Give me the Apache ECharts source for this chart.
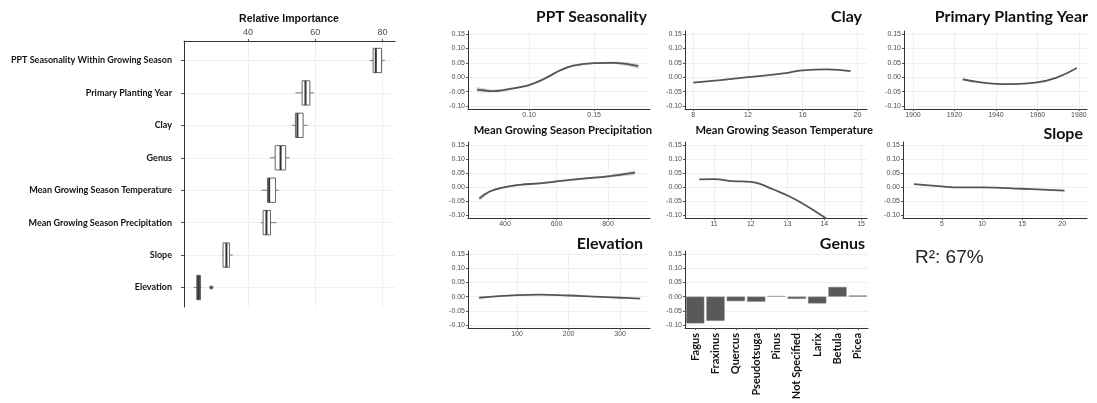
<!DOCTYPE html>
<html>
<head>
<meta charset="utf-8">
<script src="https://cdn.jsdelivr.net/npm/echarts@6/dist/echarts.min.js"></script>
<style>
  html, body { margin: 0; padding: 0; background: #fff; }
  #main { width: 1097px; height: 403px; }
</style>
</head>
<body>
<div id="main"></div>
<script>
// relative importance boxplot (left)
const importanceNames = ['PPT Seasonality Within Growing Season', 'Primary Planting Year', 'Clay', 'Genus',
  'Mean Growing Season Temperature', 'Mean Growing Season Precipitation', 'Slope', 'Elevation'];
const importanceLow = [76.2, 54.1, 53.1, 46.5, 44.0, 43.8, 32.3, 23.9];
const importanceQ1 = [77.2, 56.1, 54.1, 48.1, 45.8, 44.5, 32.6, 24.8];
const importanceMedian = [78.0, 57.1, 54.7, 49.7, 46.3, 45.5, 33.6, 25.3];
const importanceQ3 = [79.7, 58.4, 56.4, 51.2, 48.2, 46.7, 34.5, 25.9];
const importanceHigh = [80.7, 59.6, 57.7, 52.4, 49.2, 48.5, 35.5, 26.2];
const importanceOutliers = [[29.1, 7]];
const importanceTicks = [40, 60, 80];

// partial dependence panels
const effectTicks = [-0.10, -0.05, 0.00, 0.05, 0.10, 0.15];

const pptX = [0.060, 0.066, 0.072, 0.0825, 0.091, 0.100, 0.111, 0.124, 0.134, 0.150, 0.165, 0.175, 0.184];
const pptY = [-0.043, -0.046, -0.048, -0.043, -0.036, -0.027, -0.007, 0.024, 0.040, 0.049, 0.050, 0.046, 0.038];
const pptLow = [-0.052, -0.053, -0.053, -0.047, -0.039, -0.030, -0.010, 0.021, 0.037, 0.046, 0.046, 0.040, 0.029];
const pptHigh = [-0.034, -0.039, -0.043, -0.039, -0.033, -0.024, -0.004, 0.027, 0.043, 0.052, 0.054, 0.052, 0.047];
const pptTicks = [0.10, 0.15];

const clayX = [8, 10, 12, 14.6, 16, 17.8, 19.5];
const clayY = [-0.019, -0.010, 0.000, 0.013, 0.024, 0.027, 0.021];
const clayTicks = [8, 12, 16, 20];

const yearX = [1924, 1932, 1940, 1948, 1959, 1969, 1979];
const yearY = [-0.007, -0.017, -0.023, -0.024, -0.019, -0.002, 0.032];
const yearTicks = [1900, 1920, 1940, 1960, 1980];

const precipX = [300, 342, 400, 458, 535, 600, 703, 800, 905];
const precipY = [-0.041, -0.015, 0.000, 0.008, 0.013, 0.020, 0.030, 0.038, 0.051];
const precipLow = [-0.049, -0.019, -0.003, 0.005, 0.010, 0.017, 0.027, 0.034, 0.043];
const precipHigh = [-0.033, -0.011, 0.003, 0.011, 0.016, 0.023, 0.033, 0.042, 0.059];
const precipTicks = [400, 600, 800];

const tempX = [10.6, 11, 11.5, 12, 12.25, 12.6, 13, 13.43, 13.93, 14.05];
const tempY = [0.027, 0.028, 0.021, 0.018, 0.011, -0.008, -0.030, -0.060, -0.101, -0.112];
const tempTicks = [11, 12, 13, 14, 15];

const slopeX = [1.5, 5, 7.2, 10, 15, 20.3];
const slopeY = [0.010, 0.002, -0.001, -0.001, -0.006, -0.013];
const slopeTicks = [5, 10, 15, 20];

const elevX = [26, 100, 144, 200, 249, 300, 339];
const elevY = [-0.004, 0.005, 0.007, 0.004, 0.000, -0.004, -0.007];
const elevTicks = [100, 200, 300];

const genusNames = ['Fagus', 'Fraxinus', 'Quercus', 'Pseudotsuga', 'Pinus', 'Not Specified', 'Larix', 'Betula', 'Picea'];
const genusValues = [-0.094, -0.085, -0.016, -0.018, 0.002, -0.008, -0.024, 0.034, 0.004];

const rSquared = 'R²: 67%';

const chart = echarts.init(document.getElementById('main'));

const smallLabel = { fontSize: 7, color: '#4d4d4d', fontFamily: 'Liberation Sans' };
const gridLine = { show: true, lineStyle: { color: '#ebebeb', width: 0.8 } };

function valueAxis(gridIndex, min, max, ticks, digits, extra) {
  return Object.assign({
    type: 'value', gridIndex: gridIndex, min: min, max: max,
    axisLine: { show: true, onZero: false, lineStyle: { color: '#333', width: 1 } },
    axisTick: { show: true, length: 2, customValues: ticks, lineStyle: { color: '#555' } },
    axisLabel: Object.assign({ customValues: ticks, margin: 3, formatter: v => Number(v).toFixed(digits) }, smallLabel),
    splitLine: gridLine
  }, extra || {});
}

function effectAxis(gridIndex) {
  return valueAxis(gridIndex, -0.11, 0.16, effectTicks, 2);
}

function pairs(xs, ys) {
  return xs.map((x, i) => [x, ys[i]]);
}

function lineSeries(idx, xs, ys) {
  return {
    type: 'line', xAxisIndex: idx, yAxisIndex: idx, data: pairs(xs, ys),
    smooth: 0.45, showSymbol: false, symbol: 'none', clip: true,
    lineStyle: { color: '#555', width: 1.8 }, z: 3
  };
}

function bandSeries(idx, xs, lo, hi) {
  return {
    type: 'custom', xAxisIndex: idx, yAxisIndex: idx,
    data: xs.map((x, i) => [x, lo[i], hi[i]]),
    encode: { x: 0, y: [1, 2] },
    renderItem: function (params, api) {
      if (params.dataIndex !== 0) return;
      const pts = [];
      xs.forEach((x, i) => pts.push(api.coord([x, hi[i]])));
      for (let i = xs.length - 1; i >= 0; i--) pts.push(api.coord([xs[i], lo[i]]));
      return { type: 'polygon', shape: { points: pts }, style: { fill: '#d3d3d3' } };
    },
    z: 2
  };
}

const grids = [
  { left: 184, top: 41, width: 211, height: 266 },
  { left: 468, top: 31, width: 182, height: 78 },
  { left: 685, top: 31, width: 182, height: 78 },
  { left: 904, top: 31, width: 183, height: 78 },
  { left: 468, top: 142, width: 182, height: 76 },
  { left: 685, top: 142, width: 182, height: 76 },
  { left: 903, top: 142, width: 184, height: 76 },
  { left: 468, top: 251, width: 182, height: 77 },
  { left: 685, top: 251, width: 183, height: 77 }
];

const xAxes = [
  valueAxis(0, 21, 83.7, importanceTicks, 0, {
    position: 'top',
    axisLabel: { customValues: importanceTicks, margin: 4, fontSize: 9, color: '#4d4d4d', fontFamily: 'Liberation Sans' }
  }),
  valueAxis(1, 0.053, 0.193, pptTicks, 2),
  valueAxis(2, 7.4, 20.7, clayTicks, 0),
  valueAxis(3, 1895.7, 1983.9, yearTicks, 0),
  valueAxis(4, 256, 963, precipTicks, 0),
  valueAxis(5, 10.21, 15.16, tempTicks, 0),
  valueAxis(6, 0.125, 23.1, slopeTicks, 0),
  valueAxis(7, 4.5, 358, elevTicks, 0),
  {
    type: 'category', gridIndex: 8, data: genusNames,
    axisLine: { show: true, onZero: false, lineStyle: { color: '#333' } },
    axisTick: { show: true, alignWithLabel: true, length: 2, lineStyle: { color: '#555' } },
    axisLabel: { interval: 0, rotate: 90, margin: 5, fontSize: 11, fontWeight: 'bold', color: '#111', fontFamily: 'Lato' },
    splitLine: { show: false }
  }
];

const yAxes = [
  valueAxis(0, -0.6, 7.6, [0, 1, 2, 3, 4, 5, 6, 7], 0, {
    inverse: true,
    axisLabel: {
      customValues: [0, 1, 2, 3, 4, 5, 6, 7], margin: 12,
      fontSize: 9, fontWeight: 'bold', color: '#111', fontFamily: 'Lato',
      formatter: v => importanceNames[Math.round(v)]
    },
    axisTick: { show: true, length: 3, customValues: [0, 1, 2, 3, 4, 5, 6, 7], lineStyle: { color: '#555' } }
  }),
  effectAxis(1), effectAxis(2), effectAxis(3), effectAxis(4),
  effectAxis(5), effectAxis(6), effectAxis(7), effectAxis(8)
];

const boxData = importanceNames.map((n, i) =>
  [i, importanceLow[i], importanceQ1[i], importanceMedian[i], importanceQ3[i], importanceHigh[i]]);

const series = [
  {
    type: 'custom', xAxisIndex: 0, yAxisIndex: 0, data: boxData,
    encode: { y: 0, x: [1, 2, 3, 4, 5] },
    renderItem: function (params, api) {
      const i = api.value(0);
      const lo = api.coord([api.value(1), i]);
      const q1 = api.coord([api.value(2), i]);
      const md = api.coord([api.value(3), i]);
      const q3 = api.coord([api.value(4), i]);
      const hi = api.coord([api.value(5), i]);
      const h = api.size([0, 0.75])[1];
      const y = q1[1];
      const narrow = q3[0] - q1[0] < 6;
      return {
        type: 'group',
        children: [
          { type: 'line', shape: { x1: lo[0], y1: y, x2: q1[0], y2: y }, style: { stroke: '#777', lineWidth: 1 } },
          { type: 'line', shape: { x1: q3[0], y1: y, x2: hi[0], y2: y }, style: { stroke: '#777', lineWidth: 1 } },
          { type: 'rect', shape: { x: q1[0], y: y - h / 2, width: q3[0] - q1[0], height: h },
            style: { fill: narrow ? '#666' : '#fff', stroke: '#666', lineWidth: 1 } },
          { type: 'line', shape: { x1: md[0], y1: y - h / 2, x2: md[0], y2: y + h / 2 }, style: { stroke: '#333', lineWidth: 2 } }
        ]
      };
    }
  },
  {
    type: 'scatter', xAxisIndex: 0, yAxisIndex: 0, data: importanceOutliers,
    symbolSize: 4, itemStyle: { color: '#333' }
  },
  bandSeries(1, pptX, pptLow, pptHigh),
  lineSeries(1, pptX, pptY),
  lineSeries(2, clayX, clayY),
  lineSeries(3, yearX, yearY),
  bandSeries(4, precipX, precipLow, precipHigh),
  lineSeries(4, precipX, precipY),
  lineSeries(5, tempX, tempY),
  lineSeries(6, slopeX, slopeY),
  lineSeries(7, elevX, elevY),
  {
    type: 'bar', xAxisIndex: 8, yAxisIndex: 8, data: genusValues,
    barCategoryGap: '10%', itemStyle: { color: '#595959', borderColor: '#8a8a8a', borderWidth: 0.5 }
  }
];

function title(text, x, y, size, align) {
  return {
    type: 'text', x: x, y: y, silent: true,
    style: {
      text: text, align: align || 'right', verticalAlign: 'middle',
      fontFamily: 'Lato', fontWeight: 'bold', fontSize: size, fill: '#111'
    }
  };
}

const graphics = [
  title('PPT Seasonality', 647, 17, 15.5),
  title('Clay', 862, 17, 16),
  title('Primary Planting Year', 1088, 17, 16),
  title('Mean Growing Season Precipitation', 652, 130, 11.2),
  title('Mean Growing Season Temperature', 873, 130, 11.2),
  title('Slope', 1083, 134, 16),
  title('Elevation', 643, 244, 16),
  title('Genus', 865, 244, 16),
  {
    type: 'text', x: 289, y: 19, silent: true,
    style: { text: 'Relative Importance', align: 'center', verticalAlign: 'middle',
      fontFamily: 'Liberation Sans', fontWeight: 'bold', fontSize: 10.5, fill: '#111' }
  },
  {
    type: 'text', x: 915, y: 258, silent: true,
    style: { text: rSquared, align: 'left', verticalAlign: 'middle',
      fontFamily: 'Liberation Sans', fontSize: 19, fill: '#222' }
  }
];

chart.setOption({
  backgroundColor: '#fff',
  animation: false,
  grid: grids,
  xAxis: xAxes,
  yAxis: yAxes,
  series: series,
  graphic: graphics
});
</script>
</body>
</html>
